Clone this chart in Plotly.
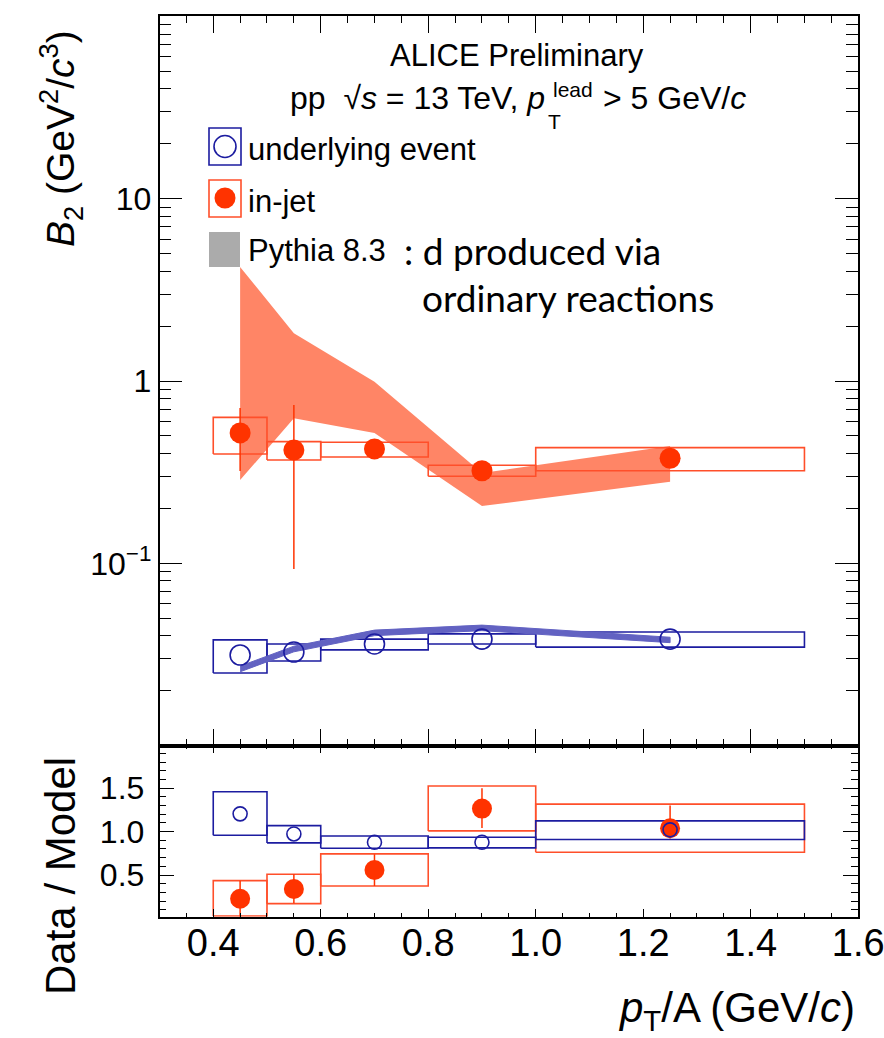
import plotly.graph_objects as go

# ---------------- data ----------------
x_pts = [0.45, 0.55, 0.7, 0.9, 1.25]
bin_lo = [0.4, 0.5, 0.6, 0.8, 1.0]
bin_hi = [0.5, 0.6, 0.8, 1.0, 1.5]

ue_b2 = [0.0314, 0.0326, 0.0361, 0.0384, 0.0384]
ue_sys_hi = [0.0380, 0.0361, 0.0384, 0.0410, 0.0420]
ue_sys_lo = [0.0250, 0.0291, 0.0335, 0.0361, 0.0347]

jet_b2 = [0.519, 0.418, 0.424, 0.322, 0.377]
jet_err_hi = [0.711, 0.738, 0.440, 0.335, 0.390]
jet_err_lo = [0.321, 0.0931, 0.410, 0.310, 0.365]
jet_sys_hi = [0.632, 0.465, 0.461, 0.345, 0.431]
jet_sys_lo = [0.398, 0.369, 0.383, 0.300, 0.322]

pythia_jet_hi = [4.22, 1.83, 0.99, 0.313, 0.440]
pythia_jet_lo = [0.286, 0.624, 0.519, 0.206, 0.280]
pythia_ue_hi = [0.0273, 0.0351, 0.0430, 0.0458, 0.0393]
pythia_ue_lo = [0.0254, 0.0327, 0.0401, 0.0427, 0.0367]

ratio_ue = [1.204, 0.973, 0.877, 0.877, 1.02]
ratio_ue_sys_hi = [1.458, 1.069, 0.950, 0.935, 1.123]
ratio_ue_sys_lo = [0.958, 0.870, 0.808, 0.812, 0.908]
ratio_jet = [0.227, 0.339, 0.558, 1.265, 1.039]
ratio_jet_err_hi = [0.435, 0.510, 0.740, 1.500, 1.300]
ratio_jet_err_lo = [0.020, 0.176, 0.374, 1.040, 0.920]
ratio_jet_sys_hi = [0.435, 0.509, 0.743, 1.524, 1.316]
ratio_jet_sys_lo = [0.028, 0.170, 0.374, 1.008, 0.762]

x_tick_vals = [0.4, 0.6, 0.8, 1.0, 1.2, 1.4, 1.6]
x_tick_text = ["0.4", "0.6", "0.8", "1.0", "1.2", "1.4", "1.6"]
y_tick_vals = [0.1, 1, 10]
y_tick_text = ["10<sup>\u22121</sup>", "1", "10"]
r_tick_vals = [0.5, 1.0, 1.5]
r_tick_text = ["0.5", "1.0", "1.5"]

# ---------------- styles ----------------
RED = "#FF3300"
RED_BOX = "#FF4F2A"
SALMON = "#FF8566"
BLUE = "#1C1CA0"
BLUE_BAND = "#6262C2"
W, H = 884, 1038
FONT = '"Liberation Sans", Arial, Helvetica, sans-serif'
FONT2 = 'Lato, "Open Sans", sans-serif'


def px(x):
    return x / W


def py(y):
    return 1 - y / H


def boxes(lo, hi, ylo, yhi):
    xs, ys = [], []
    for a, b, c, d in zip(lo, hi, ylo, yhi):
        xs += [a, b, b, a, a, None]
        ys += [c, c, d, d, c, None]
    return xs, ys


def band(x, lo, hi):
    return list(x) + list(x)[::-1], list(hi) + list(lo)[::-1]


fig = go.Figure()

# ---- top panel ----
bx, by = band(x_pts, pythia_jet_lo, pythia_jet_hi)
fig.add_trace(go.Scatter(x=bx, y=by, fill="toself", fillcolor=SALMON, mode="lines",
                         line=dict(width=0, color=SALMON), xaxis="x", yaxis="y", hoverinfo="skip"))
sx, sy = boxes(bin_lo, bin_hi, jet_sys_lo, jet_sys_hi)
fig.add_trace(go.Scatter(x=sx, y=sy, mode="lines", line=dict(color=RED_BOX, width=1.6),
                         xaxis="x", yaxis="y", hoverinfo="skip"))
sx, sy = boxes(bin_lo, bin_hi, ue_sys_lo, ue_sys_hi)
fig.add_trace(go.Scatter(x=sx, y=sy, mode="lines", line=dict(color=BLUE, width=1.6),
                         xaxis="x", yaxis="y", hoverinfo="skip"))
bx, by = band(x_pts, pythia_ue_lo, pythia_ue_hi)
fig.add_trace(go.Scatter(x=bx, y=by, fill="toself", fillcolor=BLUE_BAND, mode="lines",
                         line=dict(width=1, color=BLUE_BAND), xaxis="x", yaxis="y", hoverinfo="skip"))
fig.add_trace(go.Scatter(
    x=x_pts, y=jet_b2, mode="markers", xaxis="x", yaxis="y",
    marker=dict(symbol="circle", size=21, color=RED),
    error_y=dict(type="data", symmetric=False,
                 array=[h - v for h, v in zip(jet_err_hi, jet_b2)],
                 arrayminus=[v - l for l, v in zip(jet_err_lo, jet_b2)],
                 color=RED, thickness=1.5, width=0)))
fig.add_trace(go.Scatter(
    x=x_pts, y=ue_b2, mode="markers", xaxis="x", yaxis="y",
    marker=dict(symbol="circle-open", size=20, color=BLUE, line=dict(width=1.6, color=BLUE))))

# ---- ratio panel ----
sx, sy = boxes(bin_lo, bin_hi, ratio_jet_sys_lo, ratio_jet_sys_hi)
fig.add_trace(go.Scatter(x=sx, y=sy, mode="lines", line=dict(color=RED_BOX, width=1.6),
                         xaxis="x2", yaxis="y2", hoverinfo="skip"))
sx, sy = boxes(bin_lo, bin_hi, ratio_ue_sys_lo, ratio_ue_sys_hi)
fig.add_trace(go.Scatter(x=sx, y=sy, mode="lines", line=dict(color=BLUE, width=1.6),
                         xaxis="x2", yaxis="y2", hoverinfo="skip"))
fig.add_trace(go.Scatter(
    x=x_pts, y=ratio_jet, mode="markers", xaxis="x2", yaxis="y2",
    marker=dict(symbol="circle", size=20, color=RED),
    error_y=dict(type="data", symmetric=False,
                 array=[h - v for h, v in zip(ratio_jet_err_hi, ratio_jet)],
                 arrayminus=[v - l for l, v in zip(ratio_jet_err_lo, ratio_jet)],
                 color=RED, thickness=1.5, width=0)))
fig.add_trace(go.Scatter(
    x=x_pts, y=ratio_ue, mode="markers", xaxis="x2", yaxis="y2",
    marker=dict(symbol="circle-open", size=14, color=BLUE, line=dict(width=1.6, color=BLUE))))

# ---------------- axes ----------------
XD = [px(159.5), px(858.2)]
TOP_D = [py(745.6), py(16.4)]
BOT_D = [py(916.7), py(745.6)]

common = dict(showline=True, linecolor="black", linewidth=1.5, mirror="ticks", automargin=False,
              ticks="inside", tickcolor="black", tickwidth=1.3, showgrid=False, zeroline=False,
              ticklabeloverflow="allow")

minor_log = []
for dec in [0.01, 0.1, 1, 10]:
    for m in range(2, 10):
        minor_log.append(dec * m)

fig.update_layout(
    width=W, height=H, margin=dict(l=0, r=0, t=0, b=0, autoexpand=False),
    plot_bgcolor="white", paper_bgcolor="white", showlegend=False,
    font=dict(family=FONT, color="black"),
    xaxis=dict(domain=XD, anchor="y", range=[0.3, 1.6], tickmode="array",
               tickvals=x_tick_vals, showticklabels=False, ticklen=17,
               minor=dict(ticks="inside", ticklen=7, dtick=0.05, tick0=0.3, tickcolor="black"),
               **common),
    yaxis=dict(domain=TOP_D, anchor="x", type="log", range=[-2, 2], tickmode="array",
               tickvals=y_tick_vals, ticktext=y_tick_text, ticklen=23,
               tickfont=dict(size=32, family=FONT), ticklabelstandoff=0,
               minor=dict(ticks="inside", ticklen=12, tickmode="array", tickvals=minor_log,
                          tickcolor="black"),
               **common),
    xaxis2=dict(domain=XD, anchor="y2", range=[0.3, 1.6], tickmode="array",
                tickvals=x_tick_vals, ticktext=x_tick_text, ticklen=8,
                tickfont=dict(size=38, family=FONT), ticklabelstandoff=-8,
                minor=dict(ticks="inside", ticklen=4, dtick=0.05, tick0=0.3, tickcolor="black"),
                **common),
    yaxis2=dict(domain=BOT_D, anchor="x2", range=[0.02, 1.99], tickmode="array",
                tickvals=r_tick_vals, ticktext=r_tick_text, ticklen=15,
                tickfont=dict(size=32, family=FONT), ticklabelstandoff=7,
                minor=dict(ticks="inside", ticklen=7, dtick=0.1, tick0=0, tickcolor="black"),
                **common),
)

# ---------------- texts ----------------
ann = []


def text(x, y, t, size, xanchor="left", family=FONT, angle=0):
    ann.append(dict(x=px(x), y=py(y), xref="paper", yref="paper", text=t, showarrow=False,
                    xanchor=xanchor, yanchor="middle", textangle=angle,
                    font=dict(size=size, family=family, color="black")))


text(517, 55, "ALICE Preliminary", 31, "center")
text(547, 98, "pp  \u221a<i>s</i> = 13 TeV, <i>p</i>", 32, "right")
text(551, 89, "lead", 21)
text(546, 121, "T", 21)
text(601, 98, "> 5 GeV/<i>c</i>", 32)
text(246, 150, "underlying event", 31)
text(246, 201, "in-jet", 31)
text(246, 251, "Pythia 8.3", 31)
text(402, 251, ": d produced via", 37, family=FONT2)
text(420, 298, "ordinary reactions", 37, family=FONT2)
text(857, 1010, "<i>p</i><sub>T</sub>/A (GeV/<i>c</i>)", 42, "right")
text(61, 139, "<i>B</i><sub>2</sub> (GeV<sup>2</sup>/<i>c</i><sup>3</sup>)", 39, "center", angle=-90)
text(60, 876, "Data / Model", 42, "center", angle=-90)
fig.update_layout(annotations=ann)

# ---------------- legend symbols ----------------
shapes = [
    dict(type="rect", xref="paper", yref="paper", x0=px(209), x1=px(241), y0=py(165), y1=py(128),
         line=dict(color=BLUE, width=1.6)),
    dict(type="circle", xref="paper", yref="paper", x0=px(214), x1=px(236), y0=py(157.5), y1=py(135.5),
         line=dict(color=BLUE, width=1.6)),
    dict(type="rect", xref="paper", yref="paper", x0=px(209), x1=px(241), y0=py(217), y1=py(180),
         line=dict(color=RED_BOX, width=1.6)),
    dict(type="circle", xref="paper", yref="paper", x0=px(214.5), x1=px(235.5), y0=py(208.5), y1=py(187.5),
         fillcolor=RED, line=dict(color=RED, width=0)),
    dict(type="rect", xref="paper", yref="paper", x0=px(209), x1=px(240), y0=py(267), y1=py(232),
         fillcolor="#ABABAB", line=dict(width=0)),
]
fig.update_layout(shapes=shapes)

fig.write_html("out.html")
